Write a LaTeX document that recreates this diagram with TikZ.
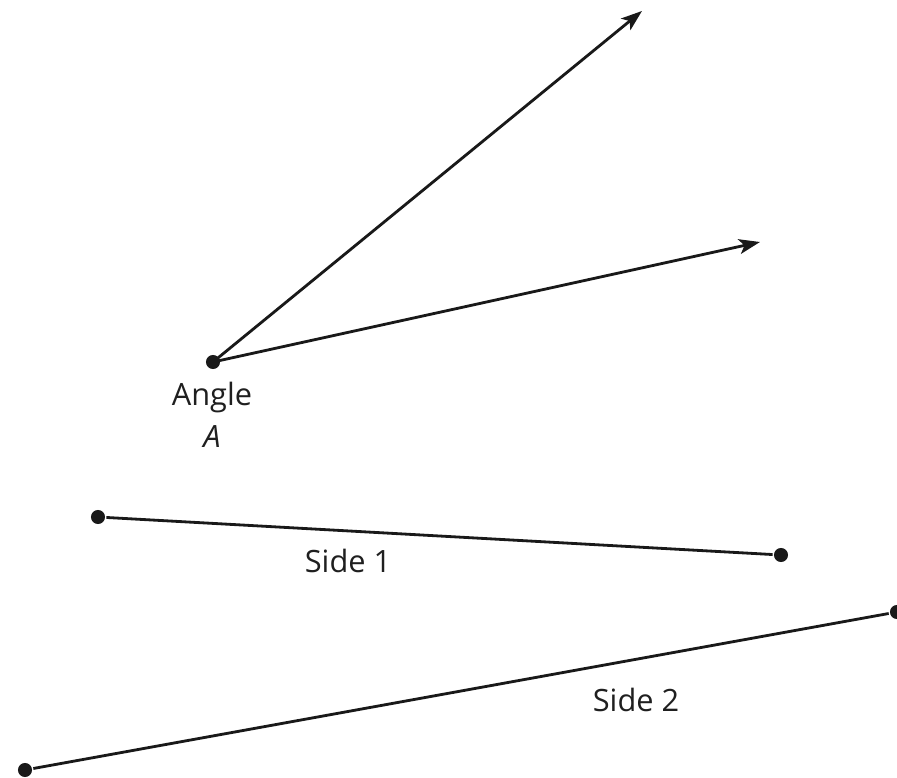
\documentclass[tikz,border=0pt]{standalone}
\usepackage{fontspec}
\setmainfont{Open Sans}
\usetikzlibrary{arrows.meta}

\tikzset{
  dot/.style={circle,fill=black!90,inner sep=0pt,minimum size=8pt},
  lbl/.style={font=\fontsize{17.5}{24}\selectfont,align=center,text=black!88}
}

\begin{document}
\begin{tikzpicture}[x=0.02cm,y=-0.02cm,line width=1.6pt,draw=black!90,>={Stealth[length=12pt,width=8.5pt,inset=3pt]}]
\useasboundingbox (0,0) rectangle (897,778);
\node[dot](A) at (213,362) {};
\coordinate (r1) at (642,11);
\coordinate (r2) at (760,242);
\draw[->,shorten <=-2pt](A)--(r1);
\draw[->,shorten <=-2pt](A)--(r2);
\node[dot](s1a) at (98,517) {};
\node[dot](s1b) at (781,555) {};
\draw(s1a)--(s1b);
\node[dot](s2a) at (25,770) {};
\node[dot](s2b) at (897,612) {};
\draw(s2a)--(s2b);
\node[lbl](angA) at (212,415) {Angle\\\textit{A}};
\node[lbl](side1) at (348,561) {Side 1};
\node[lbl](side2) at (636,700) {Side 2};
\end{tikzpicture}
\end{document}
